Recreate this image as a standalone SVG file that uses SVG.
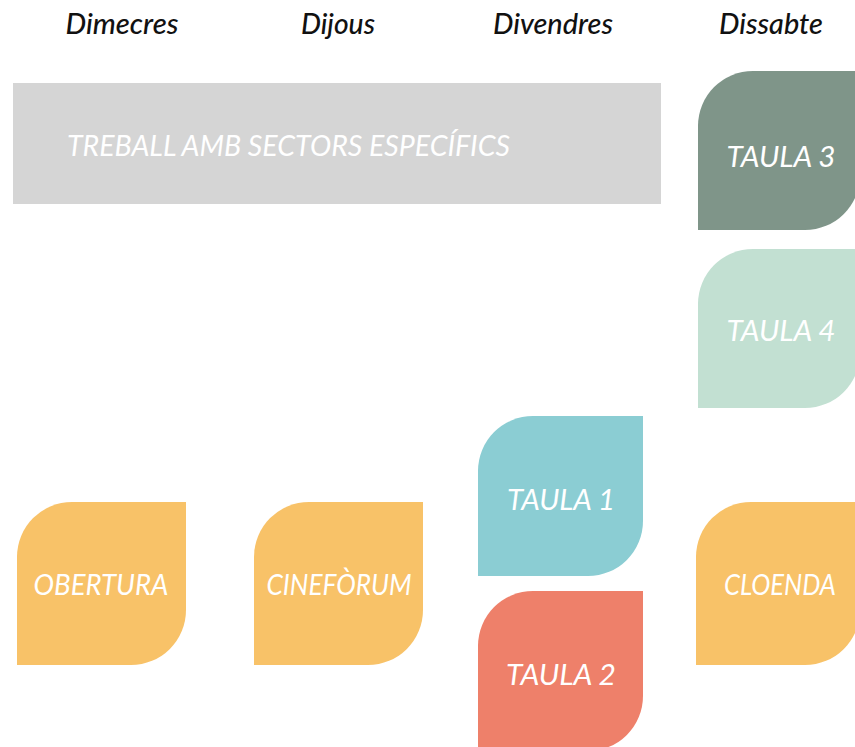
<svg xmlns="http://www.w3.org/2000/svg" width="855" height="747" viewBox="0 0 855 747">
<style>
.day{font-family:Lato,"Open Sans",sans-serif;font-style:italic;font-weight:500;font-size:28px;fill:#111;text-anchor:middle}
.lbl{font-family:Lato,"Open Sans",sans-serif;font-style:italic;font-size:29px;fill:#fff;text-anchor:middle}
.wide{font-family:Lato,"Open Sans",sans-serif;font-style:italic;font-size:28px;fill:#fff}
</style>
<rect width="855" height="747" fill="#fff"/>
<g id="headers">
<text class="day" x="122" y="34" textLength="113" lengthAdjust="spacingAndGlyphs">Dimecres</text>
<text class="day" x="338" y="34" textLength="74" lengthAdjust="spacingAndGlyphs">Dijous</text>
<text class="day" x="553" y="34" textLength="120" lengthAdjust="spacingAndGlyphs">Divendres</text>
<text class="day" x="771" y="34" textLength="104" lengthAdjust="spacingAndGlyphs">Dissabte</text>
</g>
<g id="treball">
<rect x="13" y="83" width="648" height="121" fill="#d5d5d5"/>
<text class="wide" x="67" y="156" textLength="443" lengthAdjust="spacingAndGlyphs">TREBALL AMB SECTORS ESPECÍFICS</text>
</g>
<g id="taula3">
<path d="M698,126 A55,55 0 0 1 753,71 H860 V175 A55,55 0 0 1 805,230 H698 Z" fill="#7f9589"/>
<text class="lbl" x="781" y="167" textLength="109" lengthAdjust="spacingAndGlyphs">TAULA 3</text>
</g>
<g id="taula4">
<path d="M698,304 A55,55 0 0 1 753,249 H860 V353 A55,55 0 0 1 805,408 H698 Z" fill="#c2e0d2"/>
<text class="lbl" x="781" y="341" textLength="109" lengthAdjust="spacingAndGlyphs">TAULA 4</text>
</g>
<g id="taula1">
<path d="M478,471 A55,55 0 0 1 533,416 H643 V521 A55,55 0 0 1 588,576 H478 Z" fill="#8bcdd3"/>
<text class="lbl" x="561" y="510" textLength="108" lengthAdjust="spacingAndGlyphs">TAULA 1</text>
</g>
<g id="taula2">
<path d="M478,646 A55,55 0 0 1 533,591 H643 V696 A55,55 0 0 1 588,751 H478 Z" fill="#ee806a"/>
<text class="lbl" x="561" y="685" textLength="110" lengthAdjust="spacingAndGlyphs">TAULA 2</text>
</g>
<g id="obertura">
<path d="M17,557 A55,55 0 0 1 72,502 H186 V610 A55,55 0 0 1 131,665 H17 Z" fill="#f8c268"/>
<text class="lbl" x="101" y="595" textLength="135" lengthAdjust="spacingAndGlyphs">OBERTURA</text>
</g>
<g id="cineforum">
<path d="M254,557 A55,55 0 0 1 309,502 H423 V610 A55,55 0 0 1 368,665 H254 Z" fill="#f8c268"/>
<text class="lbl" x="339" y="595" textLength="145" lengthAdjust="spacingAndGlyphs">CINEFÒRUM</text>
</g>
<g id="cloenda">
<path d="M696,557 A55,55 0 0 1 751,502 H860 V610 A55,55 0 0 1 805,665 H696 Z" fill="#f8c268"/>
<text class="lbl" x="780" y="595" textLength="112" lengthAdjust="spacingAndGlyphs">CLOENDA</text>
</g>
<g id="connectors"></g>
</svg>
